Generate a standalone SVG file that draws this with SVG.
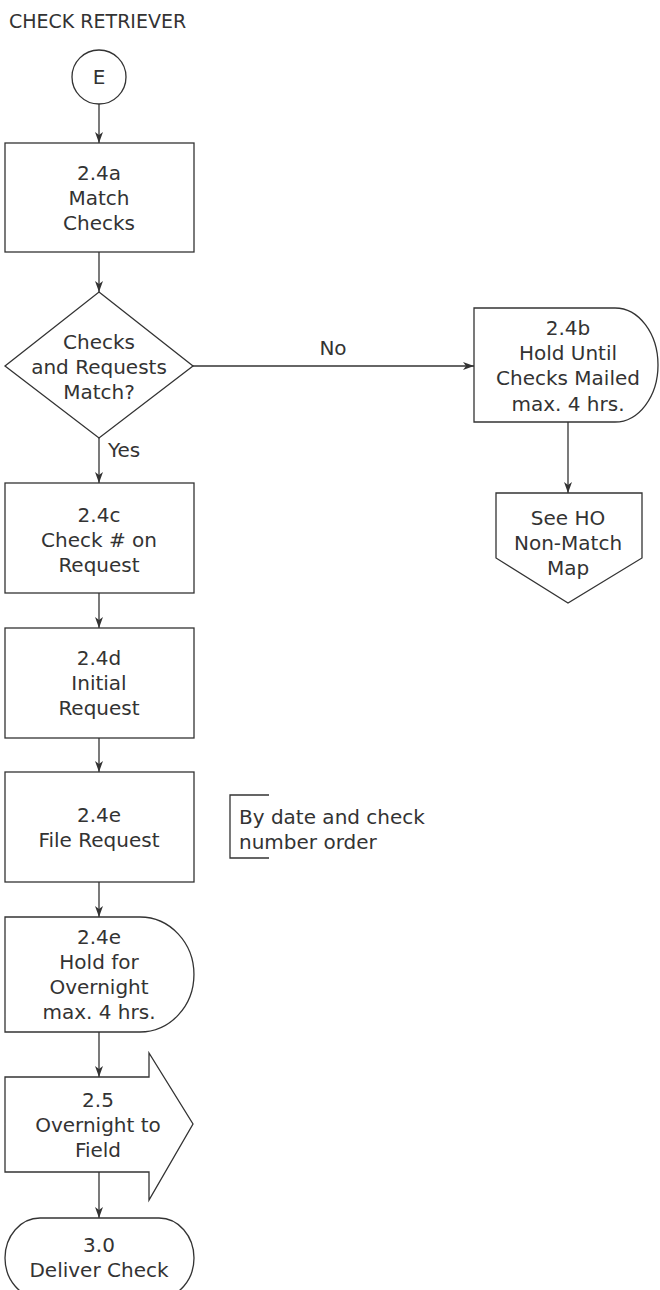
<svg xmlns="http://www.w3.org/2000/svg" width="660" height="1290" viewBox="0 0 660 1290">
  <defs>
    <marker id="arr" markerUnits="userSpaceOnUse" markerWidth="12" markerHeight="10" refX="11" refY="4" orient="auto">
      <path d="M0,0 L11,4 L0,8 L3,4 z" fill="#333"/>
    </marker>
  </defs>
  <style>
    .s { fill: #fff; stroke: #333; stroke-width: 1.3; }
    .c { fill: none; stroke: #333; stroke-width: 1.3; marker-end: url(#arr); }
    .t { font-family: "DejaVu Sans", sans-serif; font-size: 20px; fill: #333; text-anchor: middle; }
    .l { font-family: "DejaVu Sans", sans-serif; font-size: 20px; fill: #333; }
  </style>
  <rect width="660" height="1290" fill="#fff"/>
  <text id="title" x="9" y="28" class="l" style="font-size:19px">CHECK RETRIEVER</text>

  <g id="connectors">
    <line class="c" x1="99" y1="104" x2="99" y2="143"/>
    <line class="c" x1="99" y1="252" x2="99" y2="292"/>
    <line class="c" x1="99" y1="438" x2="99" y2="483"/>
    <line class="c" x1="193" y1="366" x2="474" y2="366"/>
    <line class="c" x1="568" y1="422" x2="568" y2="493"/>
    <line class="c" x1="99" y1="593" x2="99" y2="628"/>
    <line class="c" x1="99" y1="738" x2="99" y2="772"/>
    <line class="c" x1="99" y1="882" x2="99" y2="917"/>
    <line class="c" x1="99" y1="1032" x2="99" y2="1077"/>
    <line class="c" x1="99" y1="1172" x2="99" y2="1218"/>
    <text class="t" x="333" y="355">No</text>
    <text class="l" x="108" y="457">Yes</text>
  </g>

  <g id="nodeE">
    <circle class="s" cx="99" cy="77" r="27"/>
    <text class="t" x="99" y="84">E</text>
  </g>

  <g id="node24a">
    <rect class="s" x="5" y="143" width="189" height="109"/>
    <text class="t" x="99" y="180">2.4a</text>
    <text class="t" x="99" y="205">Match</text>
    <text class="t" x="99" y="230">Checks</text>
  </g>

  <g id="decision">
    <polygon class="s" points="99,292 193,366 99,438 5,366"/>
    <text class="t" x="99" y="349">Checks</text>
    <text class="t" x="99" y="374">and Requests</text>
    <text class="t" x="99" y="399">Match?</text>
  </g>

  <g id="node24b">
    <path class="s" d="M474,308 H615 A43,57 0 0 1 615,422 H474 Z"/>
    <text class="t" x="568" y="335">2.4b</text>
    <text class="t" x="568" y="360">Hold Until</text>
    <text class="t" x="568" y="385">Checks Mailed</text>
    <text class="t" x="568" y="411">max. 4 hrs.</text>
  </g>

  <g id="offpage">
    <polygon class="s" points="496,493 642,493 642,558 568,603 496,558"/>
    <text class="t" x="568" y="525">See HO</text>
    <text class="t" x="568" y="550">Non-Match</text>
    <text class="t" x="568" y="575">Map</text>
  </g>

  <g id="node24c">
    <rect class="s" x="5" y="483" width="189" height="110"/>
    <text class="t" x="99" y="522">2.4c</text>
    <text class="t" x="99" y="547">Check # on</text>
    <text class="t" x="99" y="572">Request</text>
  </g>

  <g id="node24d">
    <rect class="s" x="5" y="628" width="189" height="110"/>
    <text class="t" x="99" y="665">2.4d</text>
    <text class="t" x="99" y="690">Initial</text>
    <text class="t" x="99" y="715">Request</text>
  </g>

  <g id="node24e">
    <rect class="s" x="5" y="772" width="189" height="110"/>
    <text class="t" x="99" y="822">2.4e</text>
    <text class="t" x="99" y="847">File Request</text>
  </g>

  <g id="annotation">
    <path d="M269,795 H230 V858 H269" fill="none" stroke="#333" stroke-width="1.3"/>
    <text class="l" x="239" y="824">By date and check</text>
    <text class="l" x="239" y="849">number order</text>
  </g>

  <g id="hold24e">
    <path class="s" d="M5,917 H140 A54,57.5 0 0 1 140,1032 H5 Z"/>
    <text class="t" x="99" y="944">2.4e</text>
    <text class="t" x="99" y="969">Hold for</text>
    <text class="t" x="99" y="994">Overnight</text>
    <text class="t" x="99" y="1019">max. 4 hrs.</text>
  </g>

  <g id="node25">
    <polygon class="s" points="5,1077 149,1077 149,1053 193,1124 149,1200 149,1172 5,1172"/>
    <text class="t" x="98" y="1107">2.5</text>
    <text class="t" x="98" y="1132">Overnight to</text>
    <text class="t" x="98" y="1157">Field</text>
  </g>

  <g id="node30">
    <rect class="s" x="5" y="1218" width="189" height="80" rx="35" ry="40"/>
    <text class="t" x="99" y="1252">3.0</text>
    <text class="t" x="99" y="1277">Deliver Check</text>
  </g>
</svg>
